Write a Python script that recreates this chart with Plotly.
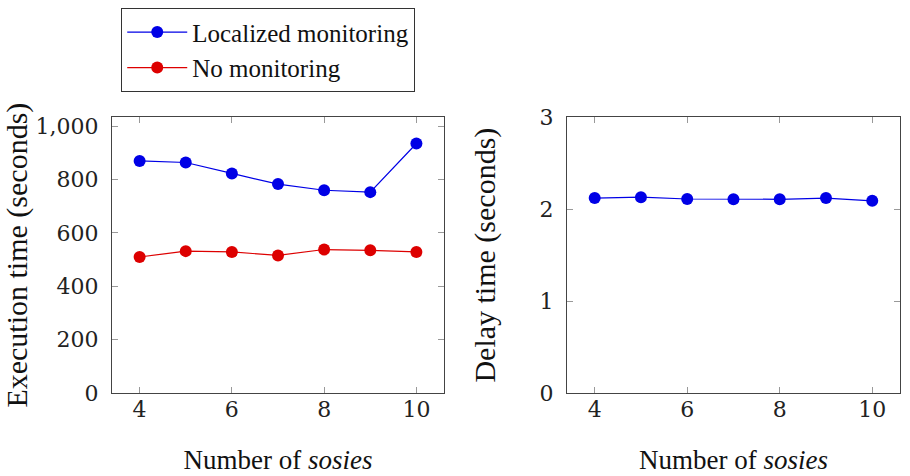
import plotly.graph_objects as go
from plotly.subplots import make_subplots

sosies = [4, 5, 6, 7, 8, 9, 10]
localized_exec = [870, 864, 823, 783, 760, 753, 935]
nomon_exec = [510, 532, 529, 516, 538, 535, 529]
localized_delay = [2.12, 2.13, 2.11, 2.107, 2.107, 2.12, 2.09]

x_ticks = [4, 6, 8, 10]
left_yticks = [0, 200, 400, 600, 800, 1000]
left_yticklabels = ["0", "200", "400", "600", "800", "1,000"]
right_yticks = [0, 1, 2, 3]

BLUE = "#0000e6"
RED = "#dd0000"
FONT = "Liberation Serif"
TICKFONT = "DejaVu Serif"

fig = make_subplots(rows=1, cols=2)

fig.add_trace(go.Scatter(x=sosies, y=localized_exec, mode="lines+markers",
                         name="Localized monitoring",
                         line=dict(color=BLUE, width=1.2),
                         marker=dict(color=BLUE, size=12)), row=1, col=1)
fig.add_trace(go.Scatter(x=sosies, y=nomon_exec, mode="lines+markers",
                         name="No monitoring",
                         line=dict(color=RED, width=1.2),
                         marker=dict(color=RED, size=12)), row=1, col=1)
fig.add_trace(go.Scatter(x=sosies, y=localized_delay, mode="lines+markers",
                         name="Localized monitoring", showlegend=False,
                         line=dict(color=BLUE, width=1.2),
                         marker=dict(color=BLUE, size=12)), row=1, col=2)

axis_common = dict(showline=True, linecolor="#444444", linewidth=1.2, mirror="allticks",
                   ticks="inside", ticklen=6, tickcolor="#999999", tickwidth=1,
                   showgrid=False, zeroline=False, automargin=False,
                   tickfont=dict(family=TICKFONT, size=22, color="#222222"))

fig.update_xaxes(**axis_common, range=[3.4, 10.6], tickvals=x_ticks,
                 ticklabelstandoff=-4,
                 title=dict(text="Number of <i>sosies</i>", standoff=29,
                            font=dict(family=FONT, size=27, color="#111111")))
fig.update_xaxes(domain=[0.123, 0.488], row=1, col=1)
fig.update_xaxes(domain=[0.623, 0.989], row=1, col=2)

fig.update_yaxes(**axis_common, domain=[0.174, 0.754], ticklabelstandoff=8)
fig.update_yaxes(range=[0, 1034], tickvals=left_yticks, ticktext=left_yticklabels,
                 title=dict(text="Execution time (seconds)", standoff=0,
                            font=dict(family=FONT, size=30, color="#111111")),
                 row=1, col=1)
fig.update_yaxes(range=[0, 3], tickvals=right_yticks,
                 title=dict(text="Delay time (seconds)", standoff=34,
                            font=dict(family=FONT, size=30, color="#111111")),
                 row=1, col=2)

fig.update_layout(
    width=910, height=476,
    margin=dict(l=0, r=0, t=0, b=0),
    font=dict(family=FONT),
    paper_bgcolor="white", plot_bgcolor="white",
    legend=dict(x=0.133, y=0.983, xanchor="left", yanchor="top",
                bordercolor="#333333", borderwidth=1.2, bgcolor="white",
                font=dict(family=FONT, size=25, color="#111111"),
                tracegroupgap=0, itemwidth=60),
)

fig.write_html("out.html")
